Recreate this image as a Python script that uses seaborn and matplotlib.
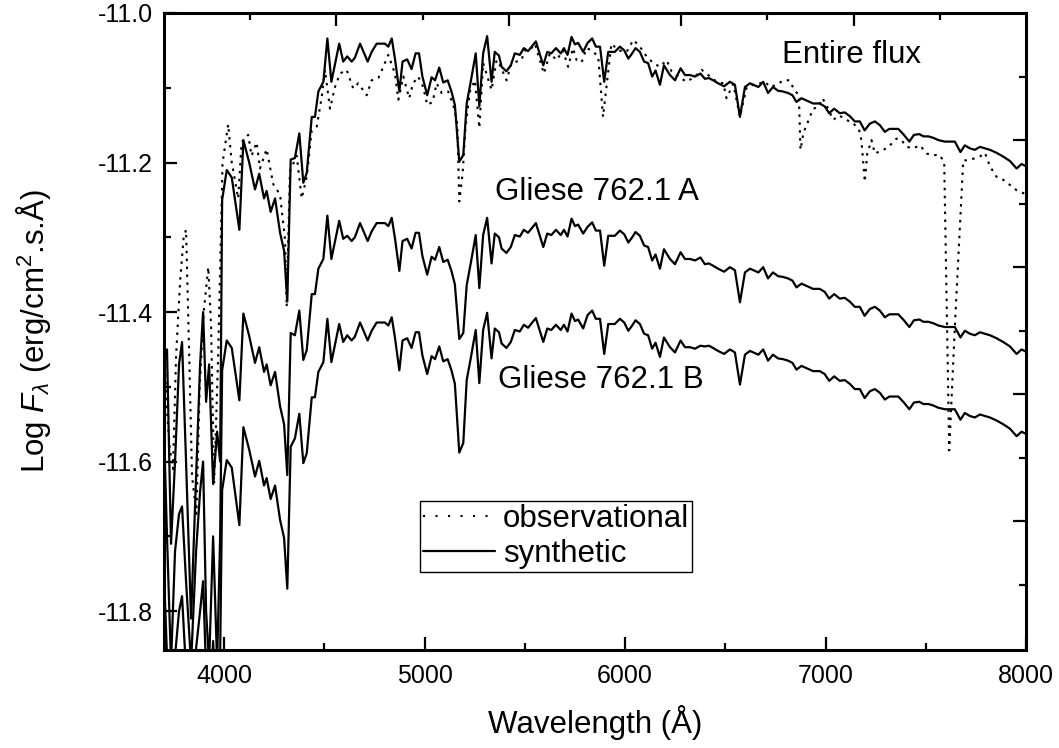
import pandas as pd
import matplotlib
matplotlib.use("Agg")
import matplotlib.pyplot as plt
from matplotlib.lines import Line2D
import seaborn as sns

sns.set_style("ticks")
plt.rcParams["font.family"] = ["Liberation Sans", "DejaVu Sans"]
plt.rcParams["mathtext.fontset"] = "custom"
plt.rcParams["mathtext.rm"] = "Liberation Sans"
plt.rcParams["mathtext.it"] = "Liberation Sans:italic"
plt.rcParams["axes.unicode_minus"] = False
plt.rcParams.update({
    "text.color": "black", "axes.labelcolor": "black", "axes.edgecolor": "black",
    "xtick.color": "black", "ytick.color": "black",
    "xtick.direction": "in", "ytick.direction": "in",
    "xtick.major.size": 0, "ytick.major.size": 0,
    "xtick.minor.size": 0, "ytick.minor.size": 0,
    "xtick.labelsize": 18, "ytick.labelsize": 18,
    "xtick.major.pad": 10, "ytick.major.pad": 8,
    "axes.linewidth": 2.2,
})

# synthetic spectra, shared wavelength grid (Angstrom)
WAVE_SYN = [
    3700, 3715, 3735, 3755, 3775, 3790, 3810, 3835, 3860, 3880, 3895, 3910, 3925, 3945, 3965, 3980,
    3990, 4013, 4038, 4076, 4096, 4125, 4154, 4175, 4199, 4212, 4232, 4254, 4279, 4299, 4315, 4332,
    4353, 4375, 4395, 4412, 4437, 4453, 4470, 4495, 4515, 4535, 4574, 4594,
    4614, 4636, 4652, 4678, 4716, 4736, 4761, 4802, 4819, 4836, 4852, 4874, 4890, 4913, 4935, 4955,
    4972, 4989, 5013, 5035, 5052, 5073, 5093, 5115, 5134, 5151, 5173, 5193,
    5210, 5230, 5255, 5273, 5292, 5312, 5334, 5350, 5371, 5384, 5408, 5430, 5450, 5475, 5495, 5516,
    5555, 5592, 5612, 5632, 5655, 5679, 5695, 5713, 5733, 5750, 5766, 5791,
    5813, 5836, 5854, 5875, 5896, 5916, 5949, 5974, 5996, 6016, 6033, 6052, 6074, 6095, 6115, 6135,
    6152, 6174, 6194, 6224, 6249, 6277, 6299, 6324, 6349, 6376,
    6398, 6418, 6439, 6464, 6494, 6523, 6548, 6573, 6598, 6623, 6665, 6689, 6713, 6738, 6763, 6788,
    6813, 6835, 6855, 6880, 6905, 6938, 6971, 6996, 7018, 7043, 7071, 7096, 7121, 7146, 7171, 7195,
    7221, 7246, 7271, 7296, 7318, 7341, 7363, 7391, 7418, 7441, 7468, 7488, 7513, 7538, 7563, 7595,
    7620, 7645, 7673, 7695, 7720, 7745, 7770, 7795, 7820, 7853, 7886, 7920, 7953, 7978, 8000,
]

FLUX_ENTIRE = [
    -11.46, -11.45, -11.71, -11.60, -11.47, -11.44, -11.60, -11.81, -11.62, -11.47, -11.40, -11.52, -11.47, -11.63, -11.56, -11.60,
    -11.25, -11.21, -11.22, -11.29, -11.17, -11.20, -11.236, -11.215, -11.248, -11.238, -11.266, -11.248, -11.294, -11.318, -11.386, -11.196,
    -11.194, -11.161, -11.227, -11.214, -11.139, -11.139, -11.105, -11.092, -11.034, -11.092, -11.041, -11.065,
    -11.058, -11.065, -11.060, -11.041, -11.065, -11.052, -11.041, -11.041, -11.045, -11.034, -11.061, -11.105, -11.065, -11.062, -11.075, -11.054,
    -11.054, -11.085, -11.110, -11.086, -11.090, -11.073, -11.093, -11.090, -11.105, -11.123, -11.199, -11.190,
    -11.121, -11.092, -11.054, -11.125, -11.054, -11.031, -11.092, -11.052, -11.057, -11.072, -11.078, -11.070, -11.054, -11.056, -11.047, -11.051,
    -11.038, -11.070, -11.052, -11.054, -11.047, -11.054, -11.047, -11.056, -11.032, -11.042, -11.040, -11.052,
    -11.040, -11.034, -11.045, -11.045, -11.092, -11.052, -11.052, -11.045, -11.050, -11.061, -11.055, -11.047, -11.052, -11.065, -11.067, -11.085,
    -11.077, -11.096, -11.070, -11.083, -11.090, -11.074, -11.083, -11.083, -11.085, -11.081,
    -11.088, -11.087, -11.090, -11.094, -11.098, -11.092, -11.096, -11.139, -11.099, -11.094, -11.099, -11.092, -11.107, -11.099, -11.104, -11.105,
    -11.107, -11.110, -11.119, -11.114, -11.117, -11.121, -11.121, -11.125, -11.134, -11.128, -11.134, -11.133, -11.138, -11.145, -11.145, -11.157,
    -11.148, -11.145, -11.150, -11.159, -11.155, -11.155, -11.155, -11.163, -11.172, -11.163, -11.162, -11.165, -11.165, -11.167, -11.170, -11.172,
    -11.172, -11.172, -11.186, -11.177, -11.181, -11.183, -11.179, -11.181, -11.183, -11.187, -11.192, -11.198, -11.208, -11.202, -11.205,
]

FLUX_A = [
    -11.56, -11.70, -11.87, -11.72, -11.67, -11.66, -11.76, -11.87, -11.72, -11.64, -11.60, -11.80, -11.87, -11.70, -11.87, -11.70,
    -11.478, -11.438, -11.448, -11.518, -11.402, -11.432, -11.468, -11.447, -11.480, -11.470, -11.498, -11.480, -11.526, -11.550, -11.618, -11.428,
    -11.431, -11.398, -11.464, -11.451, -11.376, -11.376, -11.342, -11.329, -11.271, -11.329, -11.278, -11.302,
    -11.298, -11.305, -11.300, -11.281, -11.305, -11.292, -11.281, -11.281, -11.285, -11.274, -11.301, -11.345, -11.305, -11.302, -11.315, -11.294,
    -11.294, -11.325, -11.350, -11.326, -11.330, -11.313, -11.333, -11.330, -11.345, -11.363, -11.436, -11.428,
    -11.364, -11.335, -11.297, -11.368, -11.297, -11.274, -11.335, -11.295, -11.300, -11.315, -11.321, -11.313, -11.297, -11.299, -11.290, -11.294,
    -11.281, -11.313, -11.295, -11.297, -11.290, -11.297, -11.290, -11.299, -11.275, -11.285, -11.283, -11.295,
    -11.286, -11.280, -11.291, -11.291, -11.338, -11.298, -11.298, -11.291, -11.296, -11.307, -11.301, -11.293, -11.298, -11.311, -11.313, -11.331,
    -11.323, -11.342, -11.316, -11.329, -11.336, -11.320, -11.329, -11.329, -11.331, -11.327,
    -11.336, -11.335, -11.338, -11.342, -11.346, -11.340, -11.344, -11.387, -11.347, -11.342, -11.347, -11.340, -11.355, -11.347, -11.352, -11.353,
    -11.355, -11.358, -11.367, -11.362, -11.365, -11.369, -11.369, -11.373, -11.382, -11.376, -11.382, -11.381, -11.386, -11.393, -11.393, -11.405,
    -11.396, -11.393, -11.398, -11.407, -11.403, -11.403, -11.403, -11.411, -11.420, -11.411, -11.410, -11.413, -11.413, -11.415, -11.418, -11.420,
    -11.420, -11.420, -11.434, -11.425, -11.429, -11.431, -11.427, -11.429, -11.431, -11.435, -11.440, -11.446, -11.456, -11.450, -11.453,
]

FLUX_B = [
    -11.75, -11.86, -11.90, -11.86, -11.80, -11.78, -11.88, -11.95, -11.85, -11.80, -11.76, -11.88, -11.95, -11.84, -11.95, -11.86,
    -11.638, -11.598, -11.608, -11.685, -11.554, -11.584, -11.620, -11.599, -11.632, -11.622, -11.650, -11.632, -11.678, -11.702, -11.770, -11.580,
    -11.569, -11.536, -11.602, -11.589, -11.514, -11.514, -11.480, -11.467, -11.409, -11.467, -11.416, -11.440,
    -11.431, -11.438, -11.433, -11.414, -11.438, -11.425, -11.414, -11.414, -11.418, -11.407, -11.434, -11.478, -11.438, -11.435, -11.448, -11.427,
    -11.427, -11.458, -11.483, -11.459, -11.463, -11.446, -11.466, -11.463, -11.478, -11.496, -11.588, -11.575,
    -11.491, -11.462, -11.424, -11.495, -11.424, -11.401, -11.462, -11.422, -11.427, -11.442, -11.448, -11.440, -11.424, -11.426, -11.417, -11.421,
    -11.408, -11.440, -11.422, -11.424, -11.417, -11.424, -11.417, -11.426, -11.402, -11.412, -11.410, -11.422,
    -11.404, -11.398, -11.409, -11.409, -11.456, -11.416, -11.416, -11.409, -11.414, -11.425, -11.419, -11.411, -11.416, -11.429, -11.431, -11.449,
    -11.441, -11.460, -11.434, -11.447, -11.454, -11.438, -11.447, -11.447, -11.449, -11.445,
    -11.446, -11.445, -11.448, -11.452, -11.456, -11.450, -11.454, -11.497, -11.457, -11.452, -11.457, -11.450, -11.465, -11.457, -11.462, -11.463,
    -11.465, -11.468, -11.477, -11.472, -11.475, -11.479, -11.479, -11.483, -11.492, -11.486, -11.492, -11.491, -11.496, -11.503, -11.503, -11.515,
    -11.506, -11.503, -11.508, -11.517, -11.513, -11.513, -11.513, -11.521, -11.530, -11.521, -11.520, -11.523, -11.523, -11.525, -11.528, -11.530,
    -11.530, -11.530, -11.544, -11.535, -11.539, -11.541, -11.537, -11.539, -11.541, -11.545, -11.550, -11.556, -11.566, -11.560, -11.563,
]

# observed spectrum
WAVE_OBS = [
    3700, 3712, 3728, 3745, 3760, 3780, 3798, 3810, 3825, 3840, 3862, 3878, 3898, 3921, 3935, 3950, 3970,
    3992, 4020, 4037, 4070, 4087, 4120, 4137, 4162, 4179, 4212, 4245, 4279, 4304, 4312, 4328, 4362, 4387,
    4412, 4437, 4462, 4487, 4503, 4528, 4553, 4578, 4611, 4644, 4669, 4711, 4736, 4769, 4794, 4819,
    4852, 4869, 4894, 4923, 4943, 4968, 4993, 5013, 5040, 5060, 5085, 5118, 5143, 5163, 5173, 5190,
    5204, 5226, 5251, 5273, 5292, 5334, 5359, 5376, 5409, 5433, 5483, 5500, 5525, 5550, 5595, 5625,
    5659, 5690, 5716, 5740, 5758, 5783, 5808, 5833, 5866, 5890, 5932, 5966, 6008, 6041, 6074, 6107,
    6140, 6174, 6207, 6232, 6265, 6307, 6349, 6382, 6424, 6457, 6490, 6506, 6540, 6573, 6607, 6640,
    6673, 6698, 6723, 6757, 6789, 6819, 6845, 6867, 6875, 6890, 6913, 6938, 6963, 6985, 7013, 7038,
    7068, 7104, 7137, 7167, 7179, 7196, 7208, 7229, 7246, 7279, 7304, 7329, 7354, 7379, 7404, 7437,
    7471, 7504, 7537, 7570, 7592, 7617, 7645, 7687, 7703, 7736, 7770, 7795, 7820, 7853, 7886, 7920,
    7953, 7987, 8000,
]

FLUX_OBS = [
    -11.43, -11.52, -11.58, -11.61, -11.46, -11.36, -11.30, -11.29, -11.45, -11.62, -11.67, -11.50, -11.40, -11.34, -11.42, -11.63, -11.46,
    -11.201, -11.149, -11.198, -11.248, -11.173, -11.163, -11.191, -11.173, -11.208, -11.182, -11.229, -11.243, -11.304, -11.393, -11.212, -11.191, -11.248,
    -11.219, -11.157, -11.152, -11.112, -11.076, -11.128, -11.099, -11.081, -11.076, -11.101, -11.094, -11.110, -11.090, -11.087, -11.072, -11.056,
    -11.081, -11.116, -11.085, -11.114, -11.094, -11.085, -11.099, -11.123, -11.119, -11.094, -11.107, -11.105, -11.123, -11.148, -11.252, -11.214,
    -11.152, -11.105, -11.090, -11.154, -11.067, -11.103, -11.063, -11.070, -11.090, -11.067, -11.063, -11.050, -11.050, -11.041, -11.081, -11.054,
    -11.063, -11.050, -11.072, -11.047, -11.063, -11.066, -11.047, -11.050, -11.058, -11.139, -11.041, -11.050, -11.052, -11.036, -11.045, -11.058,
    -11.067, -11.072, -11.063, -11.078, -11.085, -11.092, -11.085, -11.076, -11.085, -11.092, -11.094, -11.114, -11.095, -11.139, -11.099, -11.096,
    -11.094, -11.092, -11.099, -11.096, -11.090, -11.090, -11.103, -11.110, -11.183, -11.160, -11.145, -11.128, -11.126, -11.114, -11.128, -11.143,
    -11.137, -11.143, -11.147, -11.156, -11.170, -11.226, -11.188, -11.170, -11.188, -11.184, -11.181, -11.175, -11.168, -11.170, -11.179, -11.181,
    -11.177, -11.188, -11.190, -11.190, -11.200, -11.585, -11.420, -11.197, -11.197, -11.195, -11.192, -11.187, -11.205, -11.219, -11.223, -11.230,
    -11.237, -11.241, -11.243,
]

X_MAJOR = [4000, 5000, 6000, 7000, 8000]
X_MINOR = [4500, 5500, 6500, 7500]
Y_MAJOR = [-11.0, -11.2, -11.4, -11.6, -11.8]
Y_MINOR = [-11.1, -11.3, -11.5, -11.7]
# the top and right axes are split into ten equal steps
TOP_MAJOR = [5420, 7140, 6280, 4560]
TOP_MINOR = [4130, 4990, 5850, 6710, 7570]
RIGHT_MAJOR = [-11.17, -11.34, -11.51, -11.68]
RIGHT_MINOR = [-11.085, -11.255, -11.425, -11.595, -11.765]

XLIM = (3700, 8000)
YLIM = (-11.852, -11.0)

syn = pd.DataFrame({"wave": WAVE_SYN, "entire": FLUX_ENTIRE, "A": FLUX_A, "B": FLUX_B})
obs = pd.DataFrame({"wave": WAVE_OBS, "flux": FLUX_OBS})

DOT = (0, (1.2, 2.6))

fig = plt.figure(figsize=(10.59, 7.48), dpi=100)
ax = fig.add_axes([164 / 1059, 98 / 748, 862 / 1059, 637 / 748])

sns.lineplot(data=obs, x="wave", y="flux", ax=ax, color="black", lw=1.5,
             linestyle=DOT, estimator=None, sort=False)
for col in ["entire", "A", "B"]:
    sns.lineplot(data=syn, x="wave", y=col, ax=ax, color="black", lw=1.6,
                 estimator=None, sort=False)

ax.set_xticks(X_MAJOR)
ax.set_xticks(X_MINOR, minor=True)
ax.set_yticks(Y_MAJOR)
ax.set_yticks(Y_MINOR, minor=True)
ax.set_yticklabels([f"{v:.1f}" for v in Y_MAJOR])

# inward tick marks, drawn as short strokes on every side of the frame
MAJ, MIN = 13.0, 7.0
W_PX, H_PX = 862.0, 637.0
tick_kw = dict(colors="black", linewidth=1.6, clip_on=False, zorder=4)
xt = ax.get_xaxis_transform()
yt = ax.get_yaxis_transform()
ax.vlines(X_MAJOR, 0, MAJ / H_PX, transform=xt, **tick_kw)
ax.vlines(X_MINOR, 0, MIN / H_PX, transform=xt, **tick_kw)
ax.vlines(TOP_MAJOR, 1 - MAJ / H_PX, 1, transform=xt, **tick_kw)
ax.vlines(TOP_MINOR, 1 - MIN / H_PX, 1, transform=xt, **tick_kw)
ax.hlines(Y_MAJOR, 0, MAJ / W_PX, transform=yt, **tick_kw)
ax.hlines(Y_MINOR, 0, MIN / W_PX, transform=yt, **tick_kw)
ax.hlines(RIGHT_MAJOR, 1 - MAJ / W_PX, 1, transform=yt, **tick_kw)
ax.hlines(RIGHT_MINOR, 1 - MIN / W_PX, 1, transform=yt, **tick_kw)

ax.set_xlim(*XLIM)
ax.set_ylim(*YLIM)

ax.set_xlabel("Wavelength (Å)", fontsize=22.5, labelpad=12)
ax.set_ylabel(r"Log $F_\lambda$ (erg/cm$^2$.s.Å)", fontsize=22.5, labelpad=32)

ax.text(6781, -11.056, "Entire flux", fontsize=22.5, va="center", ha="left")
ax.text(5351, -11.239, "Gliese 762.1 A", fontsize=22.5, va="center", ha="left")
ax.text(5366, -11.491, "Gliese 762.1 B", fontsize=22.5, va="center", ha="left")

handles = [
    Line2D([], [], color="black", lw=1.5, linestyle=(0, (1, 5))),
    Line2D([], [], color="black", lw=1.6),
]
leg = ax.legend(handles, ["observational", "synthetic"], loc="upper left",
                bbox_to_anchor=(0.297, 0.234), borderaxespad=0, fontsize=22.5,
                frameon=True, fancybox=False, shadow=False, framealpha=1,
                edgecolor="black", borderpad=0.1, handlelength=2.3,
                handletextpad=0.25, labelspacing=0.15)
leg.get_frame().set_linewidth(1.0)

fig.savefig("out.png", dpi=100)
